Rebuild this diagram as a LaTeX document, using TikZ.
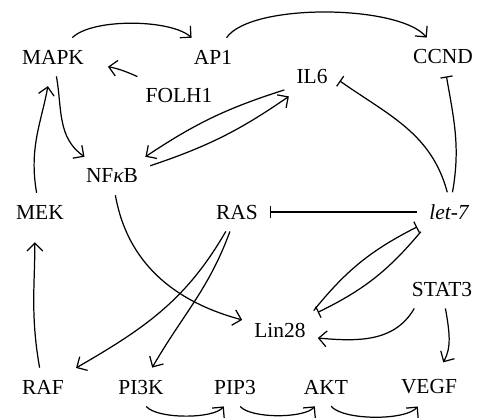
\documentclass[tikz,border=0pt]{standalone}
\usepackage{fontspec}
\setmainfont{Liberation Serif}
\usetikzlibrary{arrows.meta}
\begin{document}
\begin{tikzpicture}[x=0.02cm, y=-0.02cm, line width=0.7pt,
        font=\fontsize{12.2}{14}\selectfont,
        gene/.style={inner sep=6.6pt},
        act/.style={-{Straight Barb[length=4.5pt,width=9pt]}},
        inh/.style={-{Bar[width=7pt]}}]
        \useasboundingbox (0,0) rectangle (477,417);
        % Genes
        \foreach \n/\x/\y/\t in {mapk/53/57/MAPK, ap1/213/57/AP1, ccnd/443/57/CCND,
                folh1/179/96/FOLH1, il6/312/77/IL6, nfkb/112/176/{NF{\itshape κ}B},
                mek/40/212/MEK, ras/237/212/RAS, let7/449/212/{\itshape let-7},
                stat3/442/289/STAT3, lin28/280/330/Lin28, raf/43/387/RAF,
                pi3k/141/387/PI3K, pip3/235/387/PIP3, akt/326/387/AKT, vegf/429/387/VEGF}
            \node[gene] (\n) at (\x,\y) {\t};
        % MAPK branch
        \draw[act] (mapk) to[out=45,in=138,looseness=0.6] (ap1);
        \draw[act] (ap1) to[out=55,in=130,looseness=0.55] (ccnd);
        \draw[act,shorten >=0.24cm] (folh1) to[out=155,in=-10] (mapk);
        \draw[act] (mapk) to[out=-80,in=145] (nfkb);
        \draw[act,shorten >=0.2cm] (mek) to[out=100,in=-100] (mapk);
        \draw[act,shorten >=0.22cm] (raf) to[out=100,in=-90] (mek.-105);
        % NFkB and IL6
        \draw[act] (il6.205) to[bend right=8] (nfkb.30);
        \draw[act] (nfkb.15) to[bend right=8] (il6.220);
        \draw[act] (nfkb) to[out=-80,in=165] (lin28);
        % let-7 targets
        \draw[inh] (let7.95) to[out=105,in=-35] (il6.-8);
        \draw[inh] (let7) to[out=80,in=-80] (ccnd);
        \draw[inh] (let7) -- (ras);
        \draw[inh] (lin28.30) to[bend left=12] (let7.205);
        \draw[inh] (let7.215) to[bend left=12] (lin28.25);
        % STAT3
        \draw[act] (stat3.215) to[out=-120,in=-5] (lin28.-12);
        \draw[act,shorten >=0.12cm] (stat3) to[out=-80,in=60] (vegf);
        % RAS
        \draw[act] (ras) to[out=-120,in=30] (raf);
        \draw[act] (ras) to[out=-110,in=60] (pi3k);
        % PI3K cascade
        \foreach \a/\b in {pi3k/pip3, pip3/akt, akt/vegf}
            \draw[act] (\a.-75) to[out=-50,in=-130,looseness=0.55] (\b.-120);
    \end{tikzpicture}
\end{document}
